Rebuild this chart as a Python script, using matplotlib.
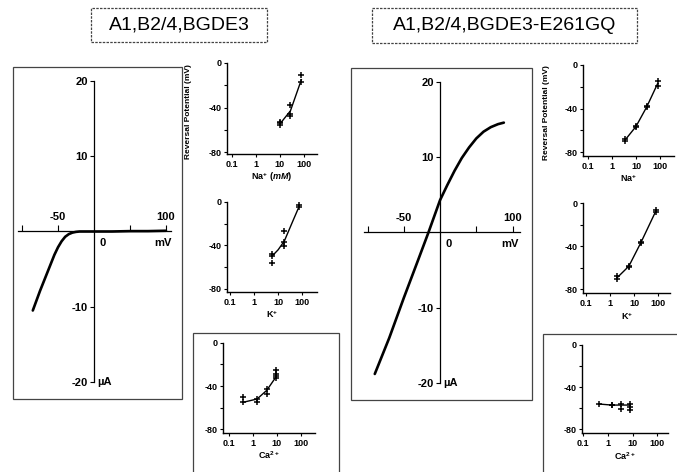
import matplotlib
matplotlib.use("Agg")
import matplotlib.pyplot as plt
from matplotlib.patches import Rectangle
from matplotlib.ticker import NullLocator

plt.rcParams['font.family'] = ['Liberation Sans', 'DejaVu Sans']
plt.rcParams['axes.unicode_minus'] = False
plt.rcParams['mathtext.fontset'] = 'custom'
plt.rcParams['mathtext.rm'] = 'Liberation Sans:bold'
plt.rcParams['mathtext.it'] = 'Liberation Sans:italic:bold'
plt.rcParams['mathtext.bf'] = 'Liberation Sans:bold'

# ---- data ----
# current-voltage curves (mV, uA)
wt_iv_v = [-85, -80, -75, -70, -65, -60, -55, -50, -45, -40, -35, -30, -25,
           -20, -10, 0, 25, 50, 75, 100]
wt_iv_i = [-10.5, -9.2, -7.9, -6.7, -5.5, -4.3, -3.1, -2.1, -1.3, -0.7, -0.35,
           -0.15, -0.05, 0, 0, 0, 0, 0.05, 0.05, 0.1]
mut_iv_v = [-90, -70, -50, -30, -16, 0, 10, 20, 30, 40, 50, 60, 70, 80, 88]
mut_iv_i = [-18.8, -14, -8.7, -3.6, 0, 4.3, 6.3, 8.2, 9.9, 11.3, 12.5, 13.4,
            14.0, 14.4, 14.6]

# reversal potential vs ion concentration, wild type
wt_na_x = [10, 10, 10, 28, 28, 28, 80, 80]
wt_na_y = [-54, -56, -53, -38, -46, -48, -11, -17]
wt_na_line_x = [10, 28, 80]
wt_na_line_y = [-55, -43, -15]

wt_k_x = [5.5, 5.5, 5.5, 18, 18, 18, 75, 75]
wt_k_y = [-48, -50, -56, -27, -37, -41, -3, -5]
wt_k_line_x = [5.5, 10, 18, 40, 75]
wt_k_line_y = [-50, -44, -36, -18, -4]

wt_ca_x = [0.4, 0.4, 1.5, 1.5, 3.8, 3.8, 9, 9, 9, 9]
wt_ca_y = [-50, -55, -52, -55, -43, -47, -25, -29, -33, -31]
wt_ca_line_x = [0.4, 1.5, 3.8, 9]
wt_ca_line_y = [-55, -52, -44, -32]

# mutant E261GQ
mut_na_x = [3.5, 3.5, 10, 10, 28, 28, 80, 80]
mut_na_y = [-68, -70, -56, -57, -39, -38, -15, -19]
mut_na_line_x = [3.5, 10, 28, 80]
mut_na_line_y = [-69, -56.5, -38.5, -17]

mut_k_x = [2, 2, 6, 6, 19, 19, 80, 80]
mut_k_y = [-68, -70, -58, -59, -36, -37, -6, -8]
mut_k_line_x = [2, 6, 19, 80]
mut_k_line_y = [-69, -58.5, -36.5, -7]

mut_ca_x = [0.43, 1.4, 1.4, 3.3, 3.3, 8, 8, 8]
mut_ca_y = [-56, -57, -57, -56, -61, -56, -59, -62]
mut_ca_line_x = [0.43, 1.4, 3.3, 8]
mut_ca_line_y = [-56, -57, -57, -57]

W, H = 677, 472
fig = plt.figure(figsize=(W / 100, H / 100), dpi=100)


def fx(px):
    return px / W


def fy(py):
    return 1 - py / H


def frame(x0, y0, x1, y1, ls='-', lw=0.9):
    fig.add_artist(Rectangle((fx(x0), fy(y1)), (x1 - x0) / W, (y1 - y0) / H,
                             transform=fig.transFigure, fill=False,
                             ec='#444444', lw=lw, ls=ls))


def iv_panel(x0, x1, y0, y1, xlim, v, i):
    ax = fig.add_axes([fx(x0), fy(y1), (x1 - x0) / W, (y1 - y0) / H])
    ax.set_xlim(*xlim)
    ax.set_ylim(-20, 20)
    for s in ['top', 'right']:
        ax.spines[s].set_visible(False)
    ax.spines['left'].set_position(('data', 0))
    ax.spines['bottom'].set_position(('data', 0))
    for s in ['left', 'bottom']:
        ax.spines[s].set_linewidth(0.9)
    ax.set_yticks([-20, -10, 10, 20])
    ax.set_yticklabels(['-20', '-10', '10', '20'], fontsize=8, fontweight='bold')
    ax.set_xticks([-100, -50, 50, 100])
    ax.set_xticklabels([])
    ax.tick_params(axis='y', direction='out', length=3, width=0.8, pad=1.5)
    ax.tick_params(axis='x', direction='in', length=4, width=0.8)
    ax.patch.set_visible(False)
    ax.plot(v, i, color='black', lw=1.9, solid_capstyle='round',
            solid_joinstyle='round')
    kw = dict(fontsize=8, fontweight='bold')
    ax.text(-50, 1.3, '-50', ha='center', va='bottom', **kw)
    ax.text(100, 1.3, '100', ha='center', va='bottom', **kw)
    ax.text(12, -0.9, '0', ha='center', va='top', **kw)
    ax.text(96, -0.9, 'mV', ha='center', va='top', **kw)
    ax.text(5, -20, '\u00b5A', ha='left', va='center', **kw)
    return ax


def log_panel(yax, t01, dec, xend, y0, y80, xax, xs, ys, lx, ly, xlabel):
    lo = 10 ** (-1 - (t01 - yax) / dec)
    hi = 10 ** (-1 + (xend - t01) / dec)
    ppm = (y80 - y0) / 80
    ybot = -(xax - y0) / ppm
    ax = fig.add_axes([fx(yax), fy(xax), (xend - yax) / W, (xax - y0) / H])
    ax.set_xscale('log')
    ax.set_xlim(lo, hi)
    ax.set_ylim(ybot, 0)
    for s in ['top', 'right']:
        ax.spines[s].set_visible(False)
    for s in ['left', 'bottom']:
        ax.spines[s].set_linewidth(1.0)
    ax.patch.set_visible(False)
    ax.set_xticks([0.1, 1, 10, 100])
    ax.set_xticklabels(['0.1', '1', '10', '100'], fontsize=6.5, fontweight='bold')
    ax.xaxis.set_minor_locator(NullLocator())
    ax.set_yticks([0, -20, -40, -60, -80])
    ax.set_yticklabels(['0', '', '-40', '', '-80'], fontsize=6.5, fontweight='bold')
    ax.tick_params(length=2.5, width=0.8, pad=1.5)
    ax.plot(lx, ly, color='black', lw=1.0, clip_on=False)
    ax.plot(xs, ys, '+', color='black', ms=4.5, mew=1.1, clip_on=False)
    ax.set_xlabel(xlabel, fontsize=6.5, fontweight='bold', labelpad=1.5)
    return ax


# title boxes
frame(91, 8, 267, 42, ls=(0, (2, 1)))
frame(372, 8, 637, 43, ls=(0, (2, 1)))
fig.text(fx(179), fy(25), 'A1,B2/4,BGDE3', fontsize=14, ha='center', va='center')
fig.text(fx(505), fy(25), 'A1,B2/4,BGDE3-E261GQ', fontsize=14, ha='center', va='center')

# frames around I-V panels and Ca panels
frame(13, 67, 182, 399)
frame(351, 68, 532, 400)
frame(193, 333, 339, 490)
frame(543, 334, 690, 490)

iv_panel(18.4, 171, 81, 382, (-105, 107), wt_iv_v, wt_iv_i)
iv_panel(363.9, 519.8, 82, 383, (-105, 110), mut_iv_v, mut_iv_i)

log_panel(227, 231.7, 24, 317, 63, 152, 154, wt_na_x, wt_na_y,
          wt_na_line_x, wt_na_line_y, 'Na$^{+}$ $\\mathit{(mM)}$')
log_panel(226.7, 230, 24.1, 317, 201.7, 289, 292, wt_k_x, wt_k_y,
          wt_k_line_x, wt_k_line_y, 'K$^{+}$')
log_panel(223.3, 229, 23.9, 315, 342.7, 429.3, 433, wt_ca_x, wt_ca_y,
          wt_ca_line_x, wt_ca_line_y, 'Ca$^{2+}$')

log_panel(583.3, 588, 24, 674, 65, 152, 156, mut_na_x, mut_na_y,
          mut_na_line_x, mut_na_line_y, 'Na$^{+}$')
log_panel(583.3, 586, 24.1, 670, 203.3, 289.3, 293.3, mut_k_x, mut_k_y,
          mut_k_line_x, mut_k_line_y, 'K$^{+}$')
log_panel(581.7, 583.3, 24.7, 668, 345, 429.3, 433.3, mut_ca_x, mut_ca_y,
          mut_ca_line_x, mut_ca_line_y, 'Ca$^{2+}$')

fig.text(fx(188), fy(112), 'Reversal Potential (mV)', rotation=90,
         fontsize=6, fontweight='bold', ha='center', va='center')
fig.text(fx(547), fy(113), 'Reversal Potential (mV)', rotation=90,
         fontsize=6, fontweight='bold', ha='center', va='center')

fig.savefig('out.png', dpi=100)
